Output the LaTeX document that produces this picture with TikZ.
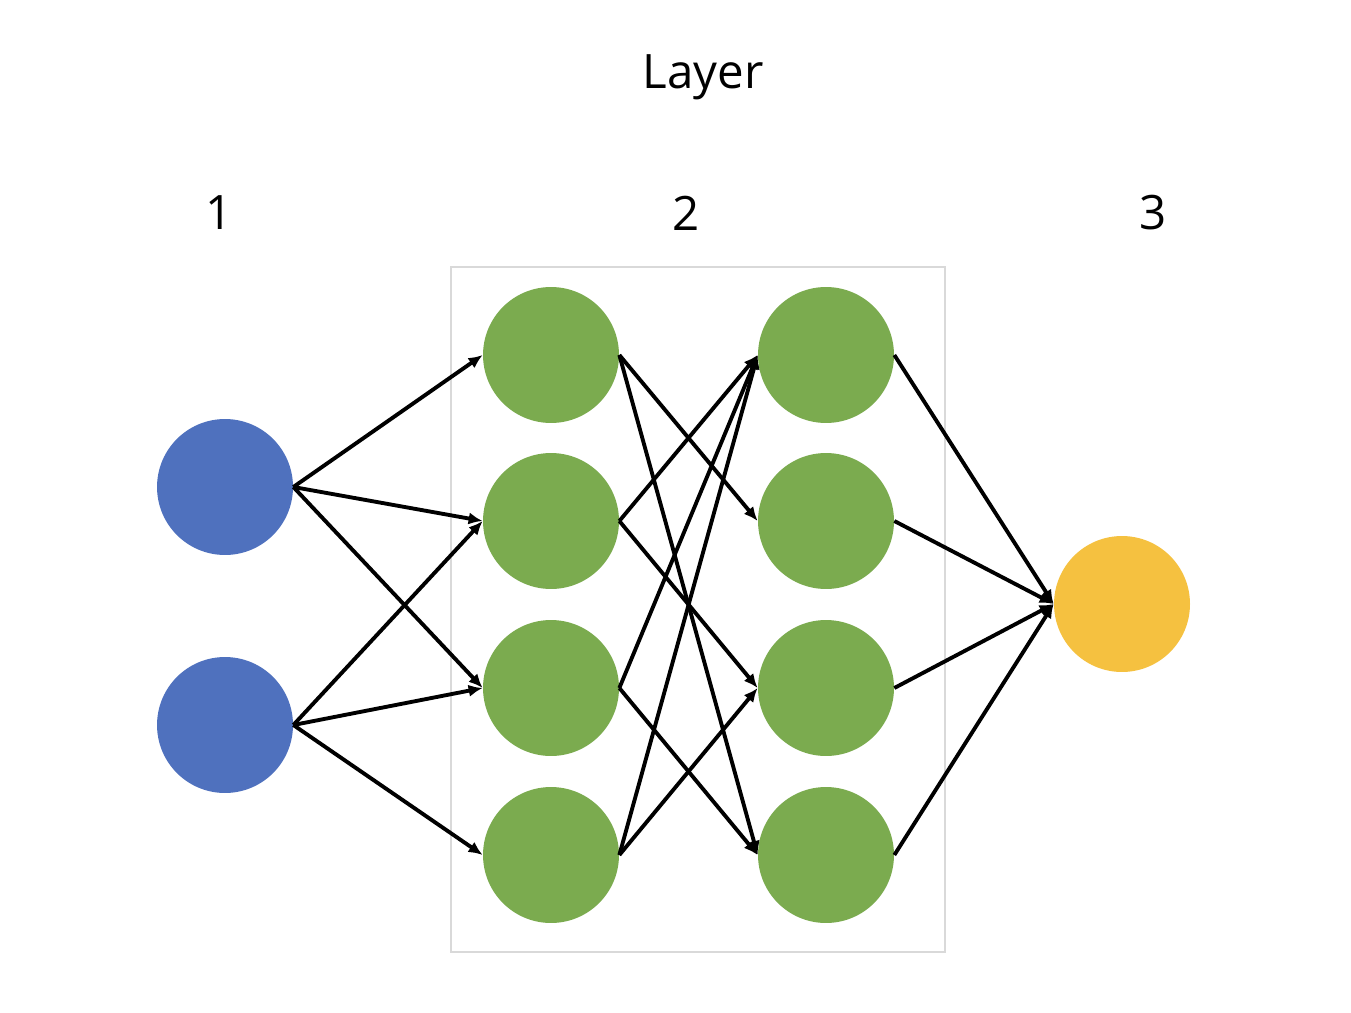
\documentclass[tikz,border=0pt]{standalone}
\usepackage{fontspec}
\setmainfont{Open Sans}
\usetikzlibrary{
    arrows.meta,
    positioning,
    calc
}

\definecolor{inputblue}{HTML}{4F71BE}
\definecolor{hiddengreen}{HTML}{7BAB4F}
\definecolor{outputyellow}{HTML}{F5C140}

\begin{document}
\begin{tikzpicture}[
    x=0.02cm, y=-0.02cm,
    neuron/.style={circle, minimum size=2.72cm, inner sep=0pt, draw=none},
    inneuron/.style={neuron, fill=inputblue},
    hidneuron/.style={neuron, fill=hiddengreen},
    outneuron/.style={neuron, fill=outputyellow},
    layerbox/.style={rectangle, draw=black!15, line width=1.4pt, inner sep=0pt,
                     minimum width=9.88cm, minimum height=13.7cm},
    label/.style={font=\fontsize{27}{32}\selectfont},
    line/.style={line width=2.2pt, -{Latex[length=8pt, width=7pt]}}
]

    \useasboundingbox (0,0) rectangle (1351,1013);

    % Titles
    \node (title) [label] at (703,77) {Layer};
    \node (lab1) [label] at (219,213) {1};
    \node (lab2) [label] at (686,213) {2};
    \node (lab3) [label] at (1153,213) {3};

    % Box round the hidden layers
    \node (hiddenbox) [layerbox] at (698,609.5) {};

    % Input layer
    \node (i1) [inneuron] at (225,487) {};
    \node (i2) [inneuron] at (225,725) {};

    % First hidden layer
    \node (h1) [hidneuron] at (551,355) {};
    \node (h2) [hidneuron] at (551,521) {};
    \node (h3) [hidneuron] at (551,688) {};
    \node (h4) [hidneuron] at (551,855) {};

    % Second hidden layer
    \node (g1) [hidneuron] at (826,355) {};
    \node (g2) [hidneuron] at (826,521) {};
    \node (g3) [hidneuron] at (826,688) {};
    \node (g4) [hidneuron] at (826,855) {};

    % Output layer
    \node (out) [outneuron] at (1122,604) {};

    % Input to first hidden
    \draw [line] (i1.east) -- (h1.west);
    \draw [line] (i1.east) -- (h2.west);
    \draw [line] (i1.east) -- (h3.west);
    \draw [line] (i2.east) -- (h2.west);
    \draw [line] (i2.east) -- (h3.west);
    \draw [line] (i2.east) -- (h4.west);

    % First hidden to second hidden
    \draw [line] (h1.east) -- (g2.west);
    \draw [line] (h1.east) -- (g4.west);
    \draw [line] (h2.east) -- (g1.west);
    \draw [line] (h2.east) -- (g3.west);
    \draw [line] (h3.east) -- (g1.west);
    \draw [line] (h3.east) -- (g4.west);
    \draw [line] (h4.east) -- (g1.west);
    \draw [line] (h4.east) -- (g3.west);

    % Second hidden to output
    \draw [line] (g1.east) -- (out.west);
    \draw [line] (g2.east) -- (out.west);
    \draw [line] (g3.east) -- (out.west);
    \draw [line] (g4.east) -- (out.west);

\end{tikzpicture}
\end{document}
